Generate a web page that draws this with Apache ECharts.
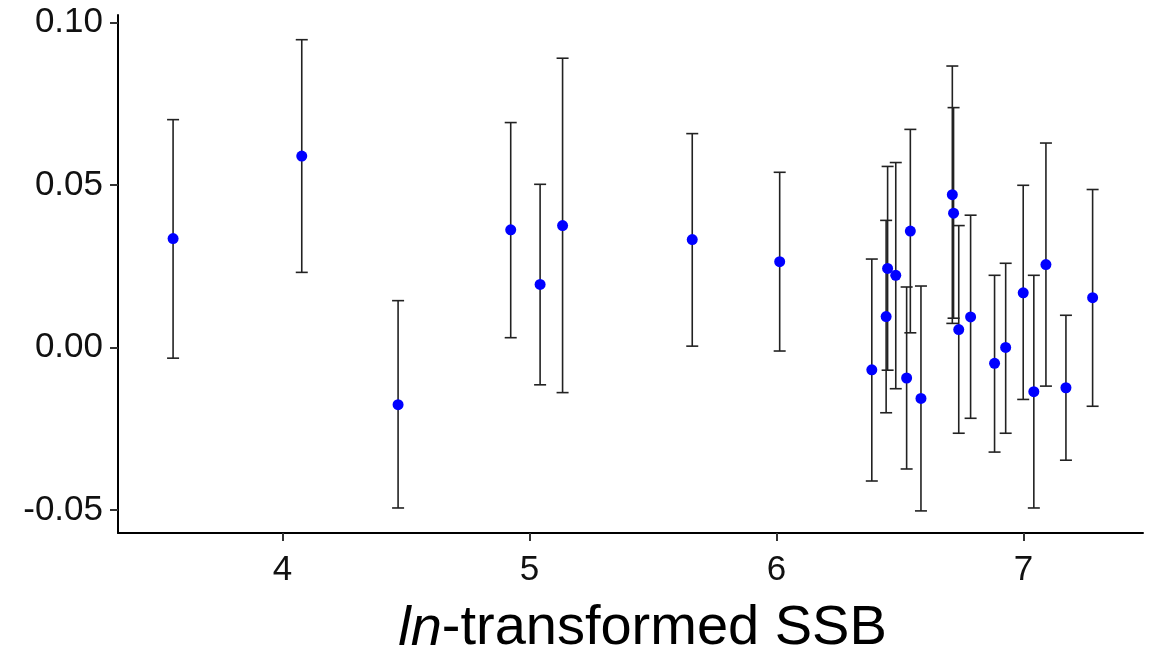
<!DOCTYPE html>
<html>
<head>
<meta charset="utf-8">
<script src="https://cdn.jsdelivr.net/npm/echarts@6/dist/echarts.min.js"></script>
<style>
  html, body { margin: 0; padding: 0; background: #fff; }
  #chart { width: 1160px; height: 654px; }
</style>
</head>
<body>
<div id="chart"></div>
<script>
// ln-transformed SSB for each year
const ssb = [3.557, 4.078, 4.468, 4.924, 5.043, 5.134, 5.659, 6.013,
  6.386, 6.444, 6.450, 6.483, 6.527, 6.542, 6.585, 6.712, 6.717, 6.738,
  6.786, 6.883, 6.928, 6.999, 7.042, 7.091, 7.172, 7.280];
// Point estimates
const estimate = [0.0335, 0.0589, -0.0176, 0.0362, 0.0194, 0.0375, 0.0332, 0.0264,
  -0.0069, 0.0095, 0.0243, 0.0222, -0.0094, 0.0358, -0.0157, 0.0470, 0.0413, 0.0055,
  0.0094, -0.0049, 0.0000, 0.0168, -0.0136, 0.0255, -0.0124, 0.0153];
// Lower and upper interval bounds
const lower = [-0.0033, 0.0231, -0.0494, 0.0030, -0.0115, -0.0139, 0.0004, -0.0011,
  -0.0411, -0.0201, -0.0070, -0.0127, -0.0374, 0.0045, -0.0503, 0.0074, 0.0090, -0.0264,
  -0.0218, -0.0322, -0.0264, -0.0160, -0.0494, -0.0119, -0.0347, -0.0181];
const upper = [0.0701, 0.0947, 0.0144, 0.0692, 0.0502, 0.0890, 0.0658, 0.0539,
  0.0272, 0.0391, 0.0557, 0.0569, 0.0186, 0.0671, 0.0189, 0.0866, 0.0738, 0.0375,
  0.0407, 0.0222, 0.0259, 0.0499, 0.0222, 0.0629, 0.0099, 0.0486];
// Axis ticks
const xTicks = [4, 5, 6, 7];
const yTicks = [-0.05, 0.00, 0.05, 0.10];

const FONT = "'Liberation Sans', Arial, sans-serif";

const points = ssb.map((x, i) => [x, estimate[i]]);
const bars = ssb.map((x, i) => [x, lower[i], upper[i]]);

const chart = echarts.init(document.getElementById('chart'), null, { renderer: 'canvas' });

const axisLineStyle = { color: '#000', width: 2 };

chart.setOption({
  animation: false,
  backgroundColor: '#fff',
  grid: { left: 118, right: 17, top: 15, bottom: 121, containLabel: false, outerBoundsMode: 'none' },
  xAxis: {
    type: 'value',
    min: 3.334,
    max: 7.484,
    splitLine: { show: false },
    axisLine: { show: true, onZero: false, lineStyle: axisLineStyle },
    axisTick: { show: true, length: 8, customValues: xTicks, lineStyle: { color: '#333', width: 2 } },
    axisLabel: {
      customValues: xTicks,
      margin: 20,
      fontSize: 35,
      color: '#111',
      fontFamily: FONT,
      formatter: v => String(v)
    },
    name: '{i|ln}-transformed SSB',
    nameLocation: 'middle',
    nameGap: 68,
    nameTextStyle: {
      fontSize: 56,
      color: '#000',
      fontFamily: FONT,
      padding: [0, 0, 0, 24],
      rich: {
        i: { fontSize: 56, fontStyle: 'italic', fontFamily: FONT, color: '#000' }
      }
    }
  },
  yAxis: {
    type: 'value',
    min: -0.0571,
    max: 0.1023,
    splitLine: { show: false },
    axisLine: { show: true, onZero: false, lineStyle: axisLineStyle },
    axisTick: { show: true, length: 8, customValues: yTicks, lineStyle: { color: '#333', width: 2 } },
    axisLabel: {
      customValues: yTicks,
      margin: 15,
      fontSize: 35,
      color: '#111',
      fontFamily: FONT,
      formatter: v => v.toFixed(2)
    }
  },
  series: [
    {
      type: 'custom',
      name: 'interval',
      data: bars,
      z: 2,
      renderItem: function (params, api) {
        const x = api.value(0);
        const lo = api.coord([x, api.value(1)]);
        const hi = api.coord([x, api.value(2)]);
        const half = 6;
        const style = { stroke: '#222', lineWidth: 1.6, fill: null };
        return {
          type: 'group',
          children: [
            { type: 'line', shape: { x1: lo[0], y1: lo[1], x2: hi[0], y2: hi[1] }, style },
            { type: 'line', shape: { x1: lo[0] - half, y1: lo[1], x2: lo[0] + half, y2: lo[1] }, style },
            { type: 'line', shape: { x1: hi[0] - half, y1: hi[1], x2: hi[0] + half, y2: hi[1] }, style }
          ]
        };
      },
      encode: { x: 0, y: [1, 2] }
    },
    {
      type: 'scatter',
      name: 'estimate',
      data: points,
      z: 3,
      symbol: 'circle',
      symbolSize: 11,
      itemStyle: { color: '#0000ff', opacity: 1 }
    }
  ]
});
</script>
</body>
</html>
